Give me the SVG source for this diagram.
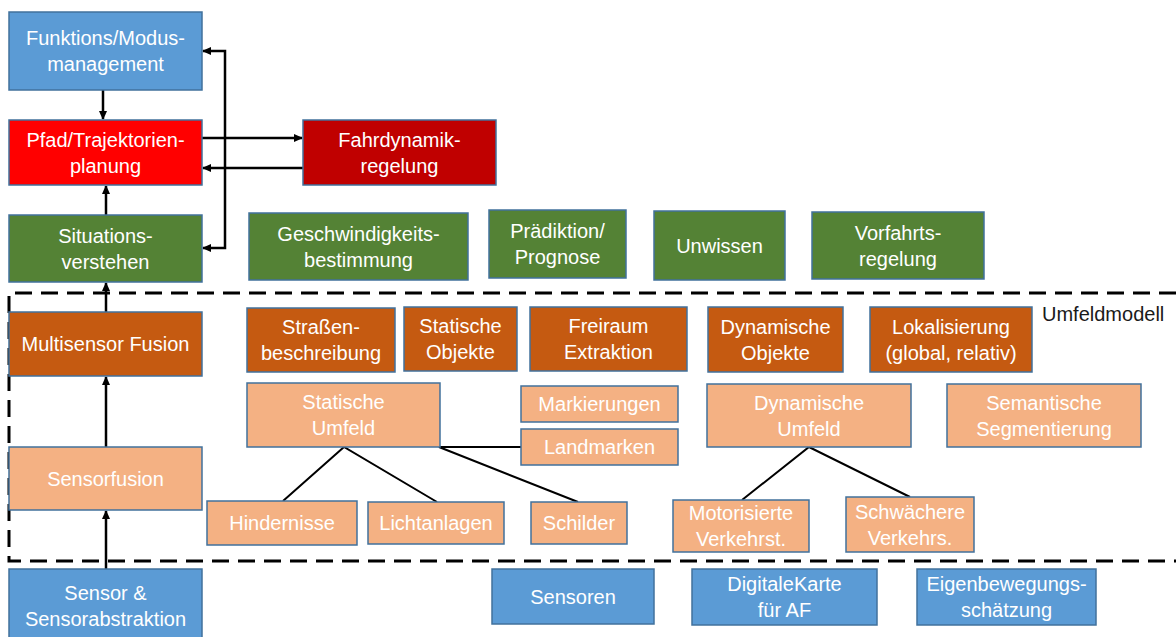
<svg xmlns="http://www.w3.org/2000/svg" width="1176" height="637" viewBox="0 0 1176 637">
<style>
rect.n{stroke:#41719c;stroke-width:1.5}
.blue{fill:#5b9bd5}.red{fill:#ff0000}.dred{fill:#c00000}.green{fill:#548235}.dor{fill:#c55a11}.lor{fill:#f4b183}
text{font-family:"Liberation Sans",Arial,sans-serif;font-size:20px;fill:#ffffff;text-anchor:middle}
.lbl{fill:#1a1a1a;text-anchor:start}
.conn{stroke:#000;stroke-width:2.5;fill:none}
.tree{stroke:#000;stroke-width:2;fill:none}
.dash{stroke:#000;stroke-width:3;fill:none;stroke-dasharray:17 9}
</style>
<defs>
<marker id="ah" markerWidth="9" markerHeight="8" refX="8" refY="4" orient="auto-start-reverse" markerUnits="userSpaceOnUse">
<path d="M0,0 L9,4 L0,8 Z" fill="#000"/>
</marker>
</defs>
<rect width="1176" height="637" fill="#ffffff"/>
<g id="umfeld-frame">
<path class="dash" d="M1176,293 H9 V561 H1176"/>
<text class="lbl" x="1042" y="321">Umfeldmodell</text>
</g>
<g id="connectors">
<line class="conn" x1="103" y1="90" x2="103" y2="119" marker-end="url(#ah)"/>
<line class="conn" x1="106" y1="215" x2="106" y2="186" marker-end="url(#ah)"/>
<line class="conn" x1="202" y1="138" x2="302" y2="138" marker-end="url(#ah)"/>
<line class="conn" x1="303" y1="168" x2="203" y2="168" marker-end="url(#ah)"/>
<path class="conn" d="M203,51 H225 V248 H203" marker-start="url(#ah)" marker-end="url(#ah)"/>
<line class="conn" x1="106" y1="312" x2="106" y2="283" marker-end="url(#ah)"/>
<line class="conn" x1="106" y1="447" x2="106" y2="377" marker-end="url(#ah)"/>
<line class="conn" x1="106" y1="569" x2="106" y2="511" marker-end="url(#ah)"/>
<path class="tree" d="M283,501 L344,447 L437,502"/>
<path class="tree" d="M578,502 L439,447 H521"/>
<path class="tree" d="M742,500 L809,447 L910,497"/>
</g>
<g id="funktions"><rect class="n blue" x="9" y="12" width="193" height="78"/><text x="105.5" y="45">Funktions/Modus-</text><text x="105.5" y="71">management</text></g>
<g id="pfad"><rect class="n red" x="9" y="120" width="193" height="65"/><text x="105.5" y="146.5">Pfad/Trajektorien-</text><text x="105.5" y="172.5">planung</text></g>
<g id="fahrdynamik"><rect class="n dred" x="303" y="120" width="193" height="65"/><text x="399.5" y="146.5">Fahrdynamik-</text><text x="399.5" y="172.5">regelung</text></g>
<g id="situation"><rect class="n green" x="9" y="215" width="193" height="67"/><text x="105.5" y="242.5">Situations-</text><text x="105.5" y="268.5">verstehen</text></g>
<g id="geschwindigkeit"><rect class="n green" x="249" y="213" width="219" height="67"/><text x="358.5" y="240.5">Geschwindigkeits-</text><text x="358.5" y="266.5">bestimmung</text></g>
<g id="praediktion"><rect class="n green" x="489" y="210" width="137" height="68"/><text x="557.5" y="238">Prädiktion/</text><text x="557.5" y="264">Prognose</text></g>
<g id="unwissen"><rect class="n green" x="654" y="211" width="131" height="69"/><text x="719.5" y="252.5">Unwissen</text></g>
<g id="vorfahrt"><rect class="n green" x="812" y="212" width="172" height="67"/><text x="898" y="239.5">Vorfahrts-</text><text x="898" y="265.5">regelung</text></g>
<g id="multisensor"><rect class="n dor" x="9" y="312" width="193" height="64"/><text x="105.5" y="351">Multisensor Fusion</text></g>
<g id="strasse"><rect class="n dor" x="247" y="308" width="148" height="64"/><text x="321" y="334">Straßen-</text><text x="321" y="360">beschreibung</text></g>
<g id="statobj"><rect class="n dor" x="404" y="307" width="113" height="64"/><text x="460.5" y="333">Statische</text><text x="460.5" y="359">Objekte</text></g>
<g id="freiraum"><rect class="n dor" x="530" y="307" width="157" height="64"/><text x="608.5" y="333">Freiraum</text><text x="608.5" y="359">Extraktion</text></g>
<g id="dynobj"><rect class="n dor" x="708" y="307" width="135" height="65"/><text x="775.5" y="333.5">Dynamische</text><text x="775.5" y="359.5">Objekte</text></g>
<g id="lokalisierung"><rect class="n dor" x="870" y="307" width="162" height="65"/><text x="951" y="333.5">Lokalisierung</text><text x="951" y="359.5">(global, relativ)</text></g>
<g id="statumfeld"><rect class="n lor" x="247" y="383" width="193" height="64"/><text x="343.5" y="409">Statische</text><text x="343.5" y="435">Umfeld</text></g>
<g id="markierungen"><rect class="n lor" x="521" y="386" width="157" height="36"/><text x="599.5" y="411">Markierungen</text></g>
<g id="landmarken"><rect class="n lor" x="521" y="429" width="157" height="36"/><text x="599.5" y="454">Landmarken</text></g>
<g id="dynumfeld"><rect class="n lor" x="707" y="384" width="204" height="63"/><text x="809" y="409.5">Dynamische</text><text x="809" y="435.5">Umfeld</text></g>
<g id="semantik"><rect class="n lor" x="947" y="384" width="194" height="63"/><text x="1044" y="409.5">Semantische</text><text x="1044" y="435.5">Segmentierung</text></g>
<g id="sensorfusion"><rect class="n lor" x="9" y="447" width="193" height="63"/><text x="105.5" y="485.5">Sensorfusion</text></g>
<g id="hindernisse"><rect class="n lor" x="207" y="501" width="150" height="44"/><text x="282" y="530">Hindernisse</text></g>
<g id="lichtanlagen"><rect class="n lor" x="368" y="502" width="136" height="42"/><text x="436" y="530">Lichtanlagen</text></g>
<g id="schilder"><rect class="n lor" x="531" y="502" width="96" height="42"/><text x="579" y="530">Schilder</text></g>
<g id="motorisierte"><rect class="n lor" x="673" y="500" width="136" height="52"/><text x="741" y="520">Motorisierte</text><text x="741" y="546">Verkehrst.</text></g>
<g id="schwaechere"><rect class="n lor" x="846" y="497" width="128" height="55"/><text x="910" y="518.5">Schwächere</text><text x="910" y="544.5">Verkehrs.</text></g>
<g id="sensor"><rect class="n blue" x="9" y="569" width="193" height="75"/><text x="105.5" y="600">Sensor &amp;</text><text x="105.5" y="626">Sensorabstraktion</text></g>
<g id="sensoren"><rect class="n blue" x="492" y="569" width="162" height="55"/><text x="573" y="603.5">Sensoren</text></g>
<g id="digitalekarte"><rect class="n blue" x="692" y="569" width="185" height="56"/><text x="784.5" y="591">DigitaleKarte</text><text x="784.5" y="617">für AF</text></g>
<g id="eigenbewegung"><rect class="n blue" x="917" y="569" width="179" height="56"/><text x="1006.5" y="591">Eigenbewegungs-</text><text x="1006.5" y="617">schätzung</text></g>
</svg>
